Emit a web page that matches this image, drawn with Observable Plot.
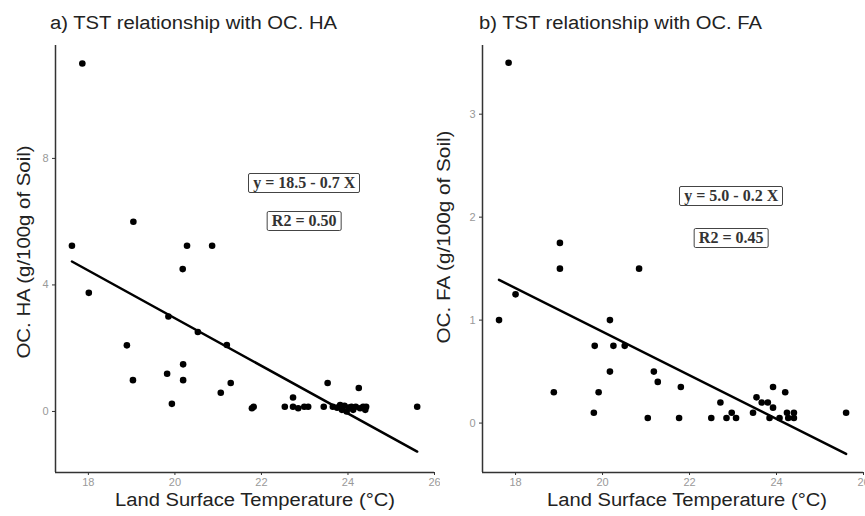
<!DOCTYPE html>
<html><head><meta charset="utf-8">
<script src="https://cdn.jsdelivr.net/npm/d3@7"></script>
<script src="https://cdn.jsdelivr.net/npm/@observablehq/plot@0.6"></script>
<style>
body{margin:0;background:#fff;font-family:"Liberation Sans",Arial,sans-serif}
#wrap{position:relative;width:865px;height:516px;overflow:hidden;background:#fff}
.panel{position:absolute;top:0}
.title{position:absolute;font-size:18px;color:#222;white-space:nowrap;line-height:1;transform-origin:0 0}
.box{position:absolute;border:1.5px solid #444;border-radius:2px;font-family:"Liberation Serif",serif;font-weight:bold;font-size:16px;line-height:18px;padding:0 4px;transform:translate(-50%,-50%);white-space:nowrap;color:#333;background:#fff}
</style>
</head><body>
<div id="wrap"></div>
<script>
// Panel a) Land surface temperature vs OC. HA
const haTemp = [17.86,17.62,19.04,20.28,20.86,20.18,18.01,19.85,20.53,21.2,18.89,20.19,19.82,19.03,20.19,21.29,21.06,19.93,21.78,21.82,22.54,22.73,22.73,22.85,22.99,23.08,23.44,23.53,23.65,23.75,23.82,23.86,23.92,23.97,24.02,24.08,24.12,24.18,24.25,24.28,24.35,24.4,24.42,25.6];
const haValue = [11.0,5.24,6.0,5.24,5.24,4.5,3.75,3.0,2.51,2.1,2.09,1.49,1.19,0.99,0.99,0.9,0.59,0.24,0.1,0.15,0.15,0.44,0.15,0.1,0.15,0.15,0.15,0.9,0.15,0.12,0.2,0.05,0.18,0.0,0.12,0.15,0.05,0.15,0.74,0.1,0.15,0.05,0.15,0.15];
// Panel b) Land surface temperature vs OC. FA
const faTemp = [17.84,19.02,19.02,20.84,17.62,18.0,20.17,19.82,20.25,20.51,20.17,21.18,21.27,18.88,19.91,21.8,19.8,21.04,21.76,22.5,22.71,22.85,22.97,23.07,23.46,23.54,23.66,23.8,23.92,23.92,23.84,24.07,24.2,24.24,24.27,24.4,24.4,25.6];
const faValue = [3.5,1.75,1.5,1.5,1.0,1.25,1.0,0.75,0.75,0.75,0.5,0.5,0.4,0.3,0.3,0.35,0.1,0.05,0.05,0.05,0.2,0.05,0.1,0.05,0.1,0.25,0.2,0.2,0.35,0.15,0.05,0.05,0.3,0.1,0.05,0.1,0.05,0.1];

const xTicks = [18,20,22,24,26];
const haTicks = [0,4,8];
const faTicks = [0,1,2,3];
const titles = ["a) TST relationship with OC. HA","b) TST relationship with OC. FA"];
const yLabels = ["OC. HA (g/100g of Soil)","OC. FA (g/100g of Soil)"];
const xLabel = "Land Surface Temperature (°C)";
const haNotes = [{x:23.0,y:7.2,text:"y = 18.5 - 0.7 X"},{x:23.0,y:6.0,text:"R2 = 0.50"}];
const faNotes = [{x:22.97,y:2.2,text:"y = 5.0 - 0.2 X"},{x:22.97,y:1.79,text:"R2 = 0.45"}];

const wrap = document.getElementById("wrap");

function stretch(svg, content, len){
  svg.querySelectorAll("text").forEach(t=>{
    if (t.textContent === content){
      t.setAttribute("textLength", len);
      t.setAttribute("lengthAdjust", "spacingAndGlyphs");
    }
  });
}

function panel(cfg){
  const data = cfg.xs.map((x,i)=>({x, y:cfg.ys[i]}));
  const xd = [17.24,26];
  const p = Plot.plot({
    width: cfg.width, height: 516,
    marginLeft: cfg.ml, marginRight: cfg.mr, marginTop: 45, marginBottom: 44,
    style:{background:"transparent", fontFamily:"Liberation Sans, Arial, sans-serif"},
    x:{domain: xd, label:null},
    y:{domain: cfg.yd, label:null},
    marks:[
      Plot.axisX({ticks:xTicks, tickSize:3, tickPadding:3, stroke:"#333", fill:"#999", fontSize:11, label:null, tickFormat:d=>String(d)}),
      Plot.axisY({ticks:cfg.ticks, tickSize:3, tickPadding:4, stroke:"#333", fill:"#999", fontSize:11, label:null, tickFormat:d=>String(d)}),
      Plot.ruleX([xd[0]], {stroke:"#333", strokeWidth:1.5}),
      Plot.ruleY([cfg.yd[0]], {stroke:"#333", strokeWidth:1.5}),
      Plot.dot(data, {x:"x", y:"y", r:3.3, fill:"black", stroke:"none"}),
      Plot.linearRegressionY(data, {x:"x", y:"y", stroke:"black", strokeWidth:2.5, ci:0}),
      Plot.text([xLabel], {frameAnchor:"bottom", dx:cfg.xdx, dy:33, fontSize:18, fill:"#222"}),
      Plot.text([cfg.yLabel], {frameAnchor:"left", textAnchor:"middle", dx:cfg.ydx, dy:cfg.ydy, rotate:-90, fontSize:18, fill:"#222"})
    ]
  });
  p.classList.add("panel");
  p.style.left = cfg.left + "px";
  wrap.appendChild(p);
  stretch(p, xLabel, 280);
  stretch(p, cfg.yLabel, 213);
  const sx = p.scale("x"), sy = p.scale("y");
  cfg.notes.forEach(n=>{
    const d = document.createElement("div");
    d.className = "box";
    d.textContent = n.text;
    d.style.left = (cfg.left + sx.apply(n.x)) + "px";
    d.style.top = sy.apply(n.y) + "px";
    wrap.appendChild(d);
  });
  const t = document.createElement("div");
  t.className = "title";
  t.textContent = cfg.title;
  t.style.left = cfg.tx + "px";
  t.style.top = "14px";
  wrap.appendChild(t);
  const w = t.getBoundingClientRect().width;
  t.style.transform = "scaleX(" + (cfg.tw / w) + ")";
}

panel({xs:haTemp, ys:haValue, yd:[-1.93,11.57], ticks:haTicks, width:440, ml:55, mr:6, left:0,
  xdx:10, yLabel:yLabels[0], ydx:-31, ydy:-7, notes:haNotes, title:titles[0], tx:50, tw:287});
panel({xs:faTemp, ys:faValue, yd:[-0.48,3.667], ticks:faTicks, width:435, ml:52, mr:2, left:430,
  xdx:14, yLabel:yLabels[1], ydx:-38, ydy:-22, notes:faNotes, title:titles[1], tx:479, tw:283});
</script>
</body></html>
